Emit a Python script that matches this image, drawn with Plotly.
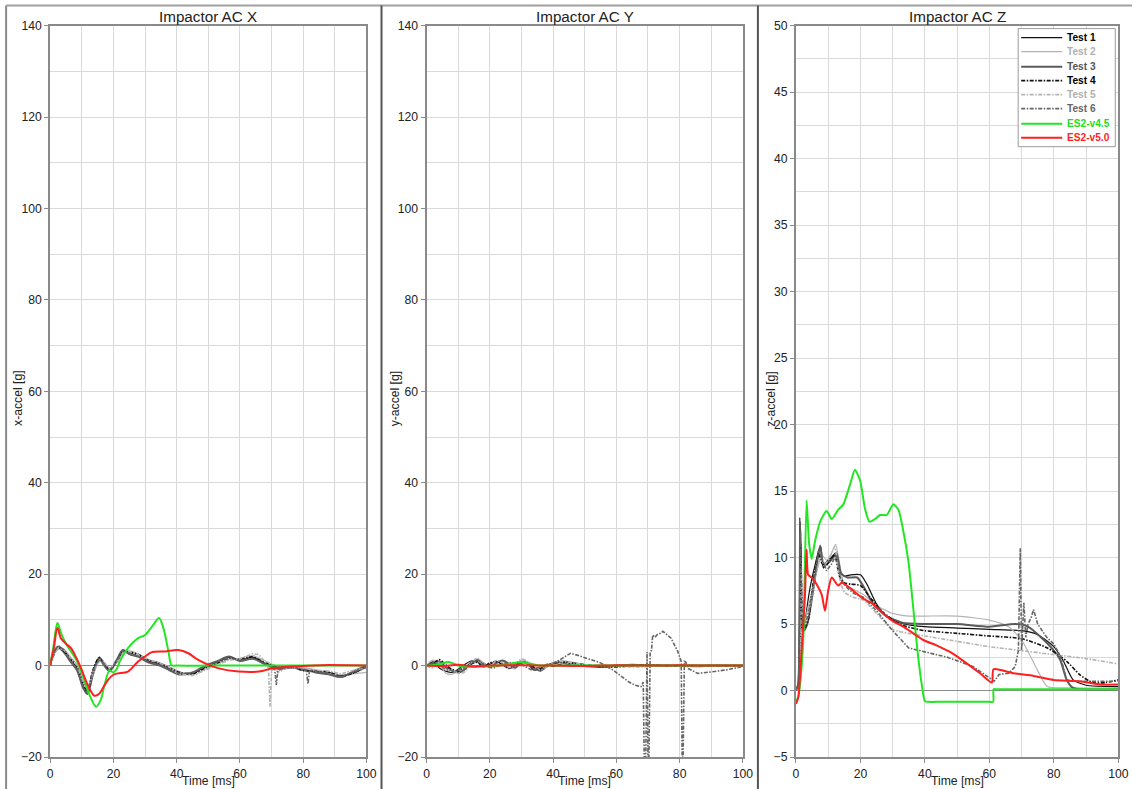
import plotly.graph_objects as go

# figure size (body margin removed by post_script); slightly larger than the window
W, H = 1146, 803
# measured mapping from figure pixels to the photographed image
AX, BX = 3.9, 0.9876
AY, BY = 6.4, 0.982
FS = 1 / 0.985  # font compensation

# ---------------- DATA ----------------
# Panel X (Impactor AC X)
tX = [0,1,2.5,4.5,6.5,8.5,10.5,11.8,13.5,15.5,16.8,18.8,21,23,25,28,31,34,37.5,40.5,45,49,53,56.5,60,64,68,72,76,80,84,88,92,96,100]
x_test1 = [0,2.5,4.2,3.2,1.3,-0.5,-4.5,-5.8,-1.5,1.5,0.6,-1.0,1.0,3.2,2.8,2.2,1.0,0.4,-0.6,-1.6,-1.7,-0.3,0.8,1.8,1.2,1.8,0.5,-0.5,-0.3,-1.0,-1.3,-1.5,-2.2,-1.5,-0.3]
x_test2 = [0,2.0,3.6,3.5,1.8,0.2,-3.5,-5.0,-2.2,0.8,0.9,-0.5,0.6,2.6,3.2,2.5,1.4,0.8,-0.2,-1.2,-2.0,-0.8,0.4,1.4,1.6,2.2,1.0,-0.2,-0.6,-0.5,-0.9,-1.7,-2.0,-1.8,-1.5]
x_test3 = [0,2.8,4.0,2.8,0.8,-1.0,-5.0,-6.2,-2.0,1.8,0.3,-1.2,1.2,3.4,2.5,1.9,0.7,0.2,-0.9,-1.9,-1.5,0,1.0,2.0,1.0,1.5,0.3,-0.7,-0.4,-0.8,-1.5,-1.9,-2.5,-1.2,0]
x_test4 = [0,2.2,3.8,3.0,1.5,-0.2,-4.0,-5.5,-1.0,1.7,0.8,-0.8,0.8,3.0,3.0,2.4,1.2,0.6,-0.4,-1.4,-1.8,-0.5,0.6,1.6,1.4,1.9,0.6,-0.3,-0.2,-1.1,-1.2,-1.4,-2.3,-1.6,-0.2]
tX5 = [0,1,2.5,4.5,6.5,8.5,10.5,11.8,13.5,15.5,16.8,18.8,21,23,25,28,31,34,37.5,40.5,45,49,53,56.5,60,64,66,68,69,69.5,70,71,72,74,76,80,84,88,92,96,100]
x_test5 = [0,2.4,3.9,3.3,1.6,0,-3.8,-5.2,-1.8,1.2,1.0,-0.7,0.7,2.8,3.1,2.3,1.3,0.7,-0.3,-1.8,-2.2,-1.0,0.2,1.2,1.5,2.6,2.4,0.8,-0.5,-9.0,-1.0,-0.8,-1.5,-0.8,-0.5,-0.5,-1.0,-1.2,-1.8,-1.0,-0.5]
tX6 = [0,1,2.5,4.5,6.5,8.5,10.5,11.8,13.5,15.5,16.8,18.8,21,23,25,28,31,34,37.5,40.5,45,49,53,56.5,60,64,68,70,71,71.5,72,74,76,78,80,81,81.5,82,84,88,92,96,100]
x_test6 = [0,2.6,4.4,3.4,1.0,-0.8,-4.8,-6.0,-1.2,1.4,0.5,-1.1,0.9,3.3,2.6,2.0,0.8,0.3,-0.7,-1.7,-1.6,-0.2,0.9,1.7,1.1,1.6,0.4,-0.6,-0.9,-4.2,-1.0,-0.6,-0.4,-0.6,-0.9,-1.2,-4.0,-1.0,-1.2,-1.8,-2.4,-1.4,-0.4]
tX_v45 = [0,1,2.3,3.5,5,6.6,8.5,10.5,12.5,14.5,16,17.2,18.8,19.9,21,22,24.6,27.8,30,32.6,34.4,35.8,37.4,38.4,40,50,60,70,80,90,100]
x_v45 = [0,4,9.3,7.0,4.8,3.1,1.0,-2.5,-6.5,-9.0,-7.5,-4.2,-1.0,-1.5,-0.8,0.9,3.8,6.0,6.7,8.9,10.4,8.2,3.1,0.1,0,0,0,0,0,0,0]
tX_v50 = [0,1.2,2.3,3.4,5,6.6,8.2,9.8,11,12.4,14,15.6,17,18.3,20,21.4,24.6,27.8,30,32,36.3,40.5,43.7,46,49,53.3,59.7,66,70.3,76.6,86,100]
x_v50 = [0,4.0,8.2,6.0,4.8,3.8,1.8,-0.6,-2.8,-5.0,-6.6,-6.1,-4.5,-3.1,-2.0,-1.7,-1.3,0.9,2.0,2.9,3.1,3.4,2.7,1.6,0.5,-0.6,-1.3,-1.3,-0.6,-0.2,0.1,0]

# Panel Y (Impactor AC Y)
tY = [0,2,4,6,8,10,12,14,16,18,20,22,24,26,28,30,32,34,36,38,40,43,46,50,55,60,65,70,75,80,85,90,95,100]
y_test1 = [0,0.8,-0.5,-1.2,-1.5,-0.8,0.2,1.0,0.9,-0.3,0.3,0.9,0.2,-0.5,0.4,0.9,0.3,-1.0,-0.6,0.3,-0.2,0.4,0.2,-0.2,-0.1,0,0.1,0,0.1,0,0,0,0,0]
y_test2 = [0,1.2,0.6,-1.6,-1.9,-1.2,-0.6,0.5,1.4,0.3,-0.5,0.7,1.0,-0.3,-0.7,1.2,0.8,-0.5,-1.2,0.2,0.4,0.6,0.3,0,-0.3,-0.2,0,0.2,0,0,-0.3,-0.1,0,0]
y_test3 = [0,0.5,0.9,-0.3,-1.1,-1.5,-0.9,0.6,1.2,0.5,-0.3,0.5,1.1,0.4,-0.4,0.6,0.5,-0.5,-1.1,-0.2,0.5,0.9,0.6,0.1,-0.3,0,0.2,0,0,0.1,0,0,0,0]
y_test4 = [0,0.4,1.3,0.2,-0.8,-1.2,-0.3,0.3,0.7,-0.2,0.6,0.9,0.3,-0.6,0.1,0.8,0.5,-0.4,-0.8,0,0.5,0.7,0.5,0.2,-0.2,-0.3,0,0.2,0,0,0,0,0,0]
y_test5 = [0,-0.5,0.7,-1.0,-0.8,-1.6,-1.4,0.4,1.6,0.6,-0.2,1.1,0.6,-0.4,0.3,1.4,0.9,0,-0.9,-0.3,0.6,0.9,0.6,0.2,0.1,0,-0.3,-0.2,0.1,0.2,0,0,0,0]
tY6 = [0,3,6,9,12,15,18,21,24,27,30,33,36,39,42,45.5,48,51,55,59,62,64,66,67.8,68.5,68.8,69.3,69.7,70.0,70.3,70.7,71.1,71.5,72.2,73,74.1,74.7,76,77.3,79.4,80.5,80.8,81.1,81.5,81.9,82.6,85.7,91,95,100]
y_test6 = [0,0.6,-0.8,-1.2,-0.5,0.9,0.2,-0.6,0.4,0.7,0.3,-0.9,-0.3,0.2,1.2,2.7,2.2,1.5,0.6,-1.0,-2.6,-3.6,-4.3,-4.6,-3.6,-20,-20,3.0,-20,-20,3.1,3.3,6.7,6.2,6.8,7.1,7.5,6.8,6.0,3.1,0.9,-20,-20,0.9,0.8,-0.6,-1.7,-1.3,-0.9,-0.2]
tY_v45 = [0,3,5,7,9,11,20,25,28,30,32,35,40,50,60,70,80,90,100]
y_v45 = [0,0.2,0.5,0.8,0.3,-0.2,-0.1,0.2,0.6,0.8,0.5,0.1,0,0,0,0,0,0,0]
tY_v50 = [0,5,10,15,20,30,40,50,60,70,80,90,100]
y_v50 = [0,-0.1,0.2,-0.2,0,0.1,0,-0.1,0.1,0,0.1,0,0]

# Panel Z (Impactor AC Z)
tZ1 = [0,0.6,1.2,1.6,2.2,3,4,5,6,7,7.7,8.5,9.5,11,12.5,13.7,15,17,20,22,25,28,32,36,40,50,60,70,75,80,83,86,90,100]
z_test1 = [0,0.3,13,5,4.5,5.5,7.2,8.5,9.5,10.5,10.8,9.2,9.7,10,10.4,9,8.6,8.7,8.7,8,6.5,5.6,5.1,4.9,4.8,4.7,4.6,4.5,4.2,3.3,2.2,0.8,0.4,0.3]
tZ2 = [0,0.8,1.4,1.9,2.5,3.5,5,6.5,8,9.5,11,12.3,13.5,15,18,21,25,30,35,40,50,60,66,70,75,78,85,100]
z_test2 = [0,0.4,10,5.5,5,6,7.5,9,10.2,9.8,10.3,11,9.6,8,7.6,7.2,6.4,5.8,5.6,5.6,5.6,5.3,4.8,3.8,1.5,0.3,0.2,0.2]
tZ3 = [0,0.7,1.3,1.8,2.4,3.5,5,6.5,7.5,8.5,10,11.5,12.6,14,16,19,21,24,28,33,40,50,60,68,72,76,80,82,84,86,100]
z_test3 = [0,0.5,12.7,6,4.5,5,7,9.5,10.9,9.5,9.6,10,10.3,8.8,8.5,8.5,7.8,6.5,5.6,5.1,5,5,4.8,5,4.8,4,3,2.3,0.8,0.2,0.1]
tZ4 = [0,1,1.5,2,3,4,5,6,7,8,9,10.5,12,13.5,15,17,20,23,27,32,36,40,50,60,70,78,84,88,92,96,100]
z_test4 = [0,0.5,11,5,4.8,5.5,7.5,9.2,10.3,9.6,9.3,9.8,10.2,8.6,8.1,8.0,7.9,7.0,5.9,5.0,4.7,4.5,4.3,4.1,3.9,3.2,2.2,1.2,0.6,0.6,0.8]
tZ5 = [0,1,1.6,2.2,3,4.5,6,7.5,9,10.5,12,13.5,15,18,21,25,30,35,40,50,60,70,80,90,100]
z_test5 = [0,0.3,9,5.5,5,6.5,8.5,9.8,9.5,10,10.8,8.5,7.4,7,6.8,5.8,4.6,4.3,4.1,3.7,3.3,3.0,2.7,2.4,2.0]
tZ6 = [0,0.9,1.4,2,2.8,4,5.5,7,8,9.5,11,12.5,14,16,18,21,25,30,35,40,47,55,60,61.5,63,66,68,69,69.6,70,70.7,71.3,72,73,73.7,75,77.8,80,82,84,86,100]
z_test6 = [0,0.4,12,5.5,4.8,6,8,10.5,10,9,9.5,10.2,8.3,7.7,7.3,7.0,6.0,4.5,3.2,2.9,2.5,1.8,1.0,0.7,1.2,1.3,1.8,3.0,10.7,3.0,6.6,4.0,5.0,5.5,6.1,5.0,4.0,3.5,2.6,0.8,0.7,0.7]
tZ_v45 = [0,0.7,1.5,2.3,3.3,4.1,4.9,5.9,7.5,9.5,11.1,13.1,14.7,16.8,18.3,19.9,21.4,22.8,24.5,26.1,28.2,30.2,31.8,33.3,34.9,36.4,37.7,39,40,41,45,50,55,60,61.2,61.3,62,65,70,80,90,100]
z_v45 = [-0.8,-0.5,1,4,14.3,11,9.9,11.2,12.7,13.5,12.9,13.6,14,15.5,16.6,15.8,13.7,12.7,12.9,13.2,13.2,14,13.6,12,9.7,6.2,3,0.5,-0.8,-0.85,-0.85,-0.85,-0.85,-0.85,-0.85,0.1,0.1,0.1,0.1,0.1,0.1,0.1]
tZ_v50 = [0,0.7,1.8,2.8,3.3,3.8,4.9,6.4,8,9,10,11.1,13.1,14.2,16.8,18.8,20.9,24,27.1,30.2,33.3,36.4,39.5,43.6,47.8,50.9,57.1,60.8,61.3,67.5,73.7,80,88,94.4,100]
z_v50 = [-1,-0.55,3.2,7.2,10.6,8.7,8.5,8,7.2,6,7.5,8.5,7.9,8.1,7.7,7.3,6.9,6.5,5.8,5.2,4.8,4.3,3.8,3.4,2.9,2.4,1.3,0.6,1.6,1.3,1.1,0.8,0.7,0.45,0.45]

series_names = ["Test 1", "Test 2", "Test 3", "Test 4", "Test 5", "Test 6", "ES2-v4.5", "ES2-v5.0"]
titles = ["Impactor AC X", "Impactor AC Y", "Impactor AC Z"]
ylabels = ["x-accel [g]", "y-accel [g]", "z-accel [g]"]

# ---------------- STYLES ----------------
DD = "4px,1.5px,1.5px,1.5px"
styles = [
    dict(color="#111111", width=1.2, dash="solid"),
    dict(color="#b4b4b4", width=1.2, dash="solid"),
    dict(color="#5a5a5a", width=2.0, dash="solid"),
    dict(color="#111111", width=1.6, dash=DD),
    dict(color="#b4b4b4", width=1.6, dash=DD),
    dict(color="#666666", width=1.6, dash=DD),
    dict(color="#22e622", width=2.0, dash="solid"),
    dict(color="#ff1f1f", width=2.0, dash="solid"),
]
text_colors = ["#000000", "#b0b0b0", "#555555", "#000000", "#b0b0b0", "#666666", "#22dd22", "#ff1f1f"]

panels = [
    [(tX, x_test1), (tX, x_test2), (tX, x_test3), (tX, x_test4), (tX5, x_test5), (tX6, x_test6), (tX_v45, x_v45), (tX_v50, x_v50)],
    [(tY, y_test1), (tY, y_test2), (tY, y_test3), (tY, y_test4), (tY, y_test5), (tY6, y_test6), (tY_v45, y_v45), (tY_v50, y_v50)],
    [(tZ1, z_test1), (tZ2, z_test2), (tZ3, z_test3), (tZ4, z_test4), (tZ5, z_test5), (tZ6, z_test6), (tZ_v45, z_v45), (tZ_v50, z_v50)],
]
linear_traces = {(1, 5), (2, 5), (0, 4), (0, 5)}

fig = go.Figure()
for p, plist in enumerate(panels):
    sfx = "" if p == 0 else str(p + 1)
    for i, (t, v) in enumerate(plist):
        ln = dict(styles[i])
        if (p, i) in linear_traces:
            ln["shape"] = "linear"
        else:
            ln["shape"] = "spline"
            ln["smoothing"] = 0.6 if p == 2 else 0.9
        fig.add_trace(go.Scatter(
            x=t, y=v, mode="lines", name=series_names[i],
            line=ln, xaxis="x" + sfx, yaxis="y" + sfx,
            showlegend=False, hoverinfo="skip",
        ))

# target image pixel -> paper fraction
def px_x(px):
    return ((px - AX) / BX) / W

def px_y(py):
    return 1 - ((py - AY) / BY) / H

xdoms = [(51, 367), (427, 743), (796, 1118)]
top, bottom = 25, 756
FONT = "Liberation Sans, Arial, Helvetica, sans-serif"
GRID = "#dadada"
AXC = "#8a8a8a"

layout = dict(
    width=W, height=H,
    margin=dict(l=0, r=0, t=0, b=0),
    paper_bgcolor="white", plot_bgcolor="white",
    font=dict(family=FONT, size=12 * FS, color="#222222"),
    showlegend=False,
)
yranges = [(-20, 140, 20, 10), (-20, 140, 20, 10), (-5, 50, 5, 2.5)]
for p in range(3):
    sfx = "" if p == 0 else str(p + 1)
    l, r = xdoms[p]
    layout["xaxis" + sfx] = dict(
        domain=[px_x(l), px_x(r)], anchor="y" + sfx, range=[0, 100],
        dtick=20, tick0=0, showgrid=True, gridcolor=GRID, gridwidth=1,
        minor=dict(dtick=10, showgrid=True, gridcolor=GRID, gridwidth=1),
        zeroline=False, showline=True, linecolor=AXC, linewidth=2, mirror=True,
        ticks="outside", ticklen=4, tickcolor=AXC,
        tickfont=dict(size=12 * FS, color="#222222"),
    )
    y0, y1, dt, mdt = yranges[p]
    layout["yaxis" + sfx] = dict(
        domain=[px_y(bottom), px_y(top)], anchor="x" + sfx, range=[y0, y1],
        dtick=dt, tick0=0, showgrid=True, gridcolor=GRID, gridwidth=1,
        minor=dict(dtick=mdt, showgrid=True, gridcolor=GRID, gridwidth=1),
        zeroline=True, zerolinecolor="#8c8c8c", zerolinewidth=1,
        showline=True, linecolor=AXC, linewidth=2, mirror=True,
        ticks="outside", ticklen=4, tickcolor=AXC,
        tickfont=dict(size=12 * FS, color="#222222"),
    )
fig.update_layout(**layout)

annotations = []
shapes = []
ylab_x = [19, 395, 771]
for p in range(3):
    l, r = xdoms[p]
    annotations.append(dict(
        text=titles[p], x=px_x((l + r) / 2), y=px_y(16), xref="paper", yref="paper",
        showarrow=False, xanchor="center", yanchor="middle",
        font=dict(size=15 * FS, color="#222222", family=FONT)))
    annotations.append(dict(
        text="Time [ms]", x=px_x((l + r) / 2), y=px_y(780), xref="paper", yref="paper",
        showarrow=False, xanchor="center", yanchor="middle",
        font=dict(size=12 * FS, color="#222222", family=FONT)))
    annotations.append(dict(
        text=ylabels[p], x=px_x(ylab_x[p]), y=px_y(398), xref="paper", yref="paper",
        showarrow=False, xanchor="center", yanchor="middle", textangle=-90,
        font=dict(size=12 * FS, color="#222222", family=FONT)))

# frame / separators
shapes.append(dict(type="line", xref="paper", yref="paper", x0=px_x(7), x1=px_x(7), y0=0, y1=px_y(5), line=dict(color="#8a8a8a", width=2)))
shapes.append(dict(type="line", xref="paper", yref="paper", x0=px_x(7), x1=1, y0=px_y(5), y1=px_y(5), line=dict(color="#a0a0a0", width=2)))
for sx in (382, 758):
    shapes.append(dict(type="line", xref="paper", yref="paper", x0=px_x(sx), x1=px_x(sx), y0=0, y1=px_y(5), line=dict(color="#555555", width=2)))

# legend (drawn in the Z panel, upper right)
shapes.append(dict(type="rect", xref="paper", yref="paper", x0=px_x(1018), x1=px_x(1115), y0=px_y(146), y1=px_y(28),
                   line=dict(color="#9a9a9a", width=1), fillcolor="white", layer="above"))
rows = [37, 51, 66, 80, 94, 108, 123, 137]
for i, name in enumerate(series_names):
    st = styles[i]
    shapes.append(dict(type="line", xref="paper", yref="paper", x0=px_x(1021), x1=px_x(1062), y0=px_y(rows[i]), y1=px_y(rows[i]),
                       line=dict(color=st["color"], width=st["width"], dash=st["dash"]), layer="above"))
    annotations.append(dict(
        text="<b>" + name + "</b>", x=px_x(1065), y=px_y(rows[i]), xref="paper", yref="paper",
        showarrow=False, xanchor="left", yanchor="middle",
        font=dict(size=10 * FS, color=text_colors[i], family=FONT)))

fig.update_layout(annotations=annotations, shapes=shapes)
fig.write_html("out.html", config={"displayModeBar": False},
               post_script="document.body.style.margin='0';document.body.style.overflow='hidden';")
